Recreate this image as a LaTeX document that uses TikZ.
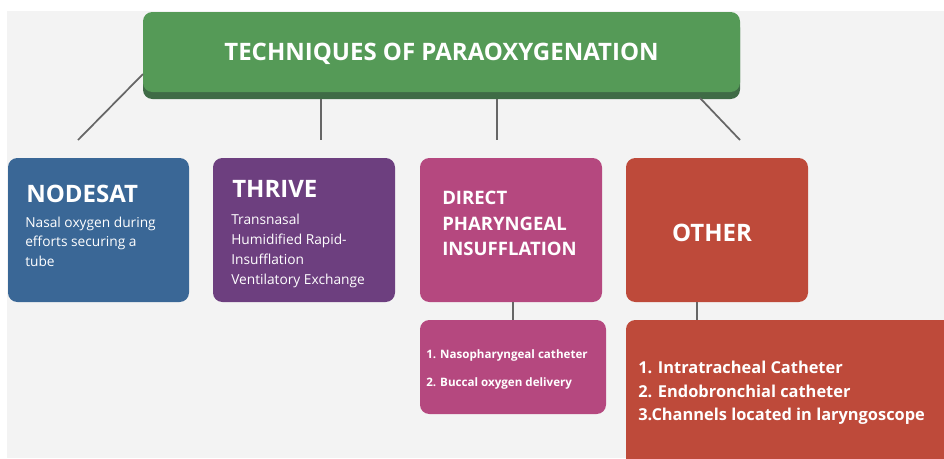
\documentclass[tikz,border=0pt]{standalone}
\usepackage{fontspec}
\setmainfont{Open Sans}
\definecolor{panel}{HTML}{F3F3F3}
\definecolor{titlegreen}{HTML}{559A57}
\definecolor{titleshade}{HTML}{3F6B46}
\definecolor{cblue}{HTML}{3A6796}
\definecolor{cpurple}{HTML}{6D3F7F}
\definecolor{cpink}{HTML}{B5487F}
\definecolor{cred}{HTML}{BE4A3A}
\definecolor{link}{HTML}{666666}
\tikzset{
  box/.style={rounded corners=7pt, draw=none, text=white, inner sep=0pt},
  wire/.style={draw=link, line width=1.3pt},
  head/.style={text=white, font=\bfseries, anchor=base west, inner sep=0pt},
  body/.style={text=white, anchor=north west, inner sep=0pt, align=left},
}
\begin{document}
\begin{tikzpicture}[x=0.75pt, y=-0.75pt]
\useasboundingbox (0,0) rectangle (944,458);
\fill[white] (0,0) rectangle (944,458);
\fill[panel] (7,11) rectangle (944,458);

% title bar with a darker lower edge
\fill[titleshade, rounded corners=7pt] (143,18) rectangle (740,99);
\fill[titlegreen, rounded corners=7pt] (143,12) rectangle (740,92);
\node[text=white, font=\fontsize{18}{22}\selectfont\bfseries] (title) at (441.5,54) {TECHNIQUES OF PARAOXYGENATION};
\coordinate (tl) at (143,74);
\coordinate (tr) at (700,98);
\coordinate (t2) at (321,99);
\coordinate (t3) at (497,99);

% category boxes
\fill[cblue, box] (8,158) rectangle (189,302);
\fill[cpurple, box] (213,158) rectangle (395,302);
\fill[cpink, box] (420,158) rectangle (602,302);
\fill[cred, box] (626,158) rectangle (808,302);
\coordinate (nodesat) at (78,140);
\coordinate (thrive) at (321,140);
\coordinate (direct) at (497,140);
\coordinate (other) at (740,140);

\node[head, font=\fontsize{18}{22}\selectfont\bfseries] (h1) at (26,202) {NODESAT};
\node[body, font=\fontsize{10.3}{14.4}\selectfont] (b1) at (25,217) {Nasal oxygen during\\efforts securing a\\tube};

\node[head, font=\fontsize{18}{22}\selectfont\bfseries] (h2) at (232,197) {THRIVE};
\node[body, font=\fontsize{10.3}{15}\selectfont] (b2) at (231,214) {Transnasal\\Humidified Rapid-\\Insufflation\\Ventilatory Exchange};

\node[body, font=\fontsize{13.9}{19}\selectfont\bfseries] (h3) at (442,191) {DIRECT\\PHARYNGEAL\\INSUFFLATION};

\node[text=white, font=\fontsize{18}{22}\selectfont\bfseries] (h4) at (712,233) {OTHER};

% detail boxes
\fill[cpink, box] (420,320) rectangle (606,414);
\fill[cred, box] (626,320) rectangle (960,470);
\coordinate (d1top) at (513,320);
\coordinate (d2top) at (697,320);
\coordinate (d1) at (513,302);
\coordinate (d2) at (697,302);

\node[body, font=\fontsize{8.7}{21.5}\selectfont\bfseries] (l1) at (426,349) {1. Nasopharyngeal catheter\\2. Buccal oxygen delivery};
\node[body, font=\fontsize{12.3}{17.5}\selectfont\bfseries] (l2) at (638,361) {1. Intratracheal Catheter\\2. Endobronchial catheter\\3.Channels located in laryngoscope};

% connectors
\draw[wire] (tl) -- (nodesat);
\draw[wire] (t2) -- (thrive);
\draw[wire] (t3) -- (direct);
\draw[wire] (tr) -- (other);
\draw[wire] (d1) -- (d1top);
\draw[wire] (d2) -- (d2top);
\end{tikzpicture}
\end{document}
